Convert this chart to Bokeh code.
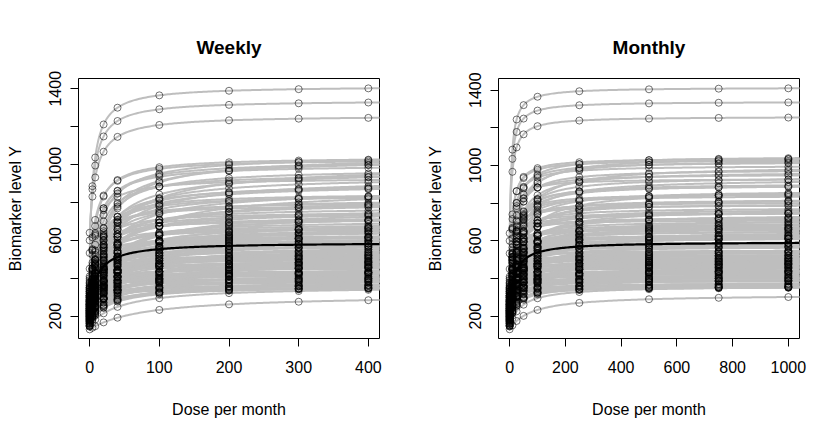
import numpy as np
from bokeh.plotting import figure
from bokeh.models import Range1d, FixedTicker, Title
from bokeh.layouts import row
from bokeh.embed import file_html
from bokeh.resources import INLINE

# ---------------- data ----------------
weekly_doses = [0, 4, 8, 20, 40, 100, 200, 300, 400]
monthly_doses = [0, 10, 25, 50, 100, 250, 500, 750, 1000]

# per-subject Emax-model parameters (baseline, maximal effect, ED50)
e0 = [130, 150, 165, 180, 145, 200, 220, 175, 240, 160, 260, 190, 210, 230, 150, 275, 185, 205, 250, 170,
      300, 225, 195, 265, 155,
      210, 280, 175, 240, 320, 190, 260, 145, 230, 300, 200, 350, 165, 270, 215, 245, 185, 330, 255, 160,
      290, 220, 205, 375, 235, 180, 265, 310, 195, 250, 225, 285, 170, 340, 210, 260, 235, 190, 305, 275,
      150, 220, 360, 245, 200, 280, 230, 325, 185, 255,
      210, 295, 170, 240, 350, 265, 195, 310, 225, 400, 180, 285, 250, 215, 330, 160, 275, 235, 370, 200,
      300, 255, 190, 320, 230, 280, 215, 345, 260, 175, 305, 240, 390, 225, 290, 200,
      270, 335, 215, 250, 310, 180, 285, 360, 230, 265, 205, 320, 245, 290, 380, 220, 275, 330, 240, 300,
      350, 260, 410, 310, 280, 340, 450,
      533, 600, 640]
emax = [185, 210, 195, 175, 215, 155, 140, 190, 120, 215, 110, 190, 175, 160, 245, 115, 215, 200, 155, 240,
        100, 190, 225, 150, 270,
        220, 150, 265, 200, 120, 255, 190, 300, 225, 160, 260, 110, 300, 200, 260, 235, 295, 150, 230, 330,
        200, 275, 290, 125, 270, 325, 245, 200, 320, 265, 300, 240, 360, 185, 330, 285, 310, 360, 245, 280,
        420, 350, 215, 340, 385, 310, 365, 270, 410, 345,
        405, 320, 455, 380, 265, 365, 430, 320, 415, 230, 470, 365, 405, 450, 335, 510, 400, 450, 300, 490,
        390, 445, 520, 385, 490, 440, 520, 380, 480, 580, 445, 530, 360, 550, 480, 590,
        530, 470, 610, 570, 520, 660, 570, 490, 640, 610, 690, 580, 660, 640, 550, 720, 680, 640, 740, 700,
        650, 770, 610, 730, 770, 710, 580,
        882, 740, 620]
ed50 = [80, 45, 30, 25, 20, 15, 35, 12, 10, 18, 22, 40, 8, 28, 16, 6, 50, 14, 20, 33,
        12, 9, 24, 38, 11,
        15, 7, 26, 19, 30, 12, 45, 21, 10, 17, 35, 8, 14, 23, 6, 40, 18, 11, 28, 9,
        16, 55, 13, 20, 24, 32, 7, 19, 15, 42, 10, 26, 21, 12, 17, 36, 8, 25, 14, 30,
        18, 11, 23, 45, 16, 9, 28, 20, 13, 38,
        15, 22, 27, 10, 8, 19, 33, 14, 24, 17, 12, 40, 21, 9, 26, 18, 13, 35, 11, 22,
        16, 29, 7, 20, 44, 12, 25, 15, 31, 17, 10, 38, 19, 14, 24, 8,
        21, 12, 28, 16, 35, 10, 19, 14, 26, 42, 13, 22, 17, 30, 9, 20, 12, 25, 15, 34,
        11, 18, 14, 8, 23, 16, 10,
        6, 7, 9]

# typical (population) curve parameters: baseline, Emax, ED50
mean_weekly = [250, 340, 12]
mean_monthly = [250, 345, 20]

x_ticks_weekly = [0, 100, 200, 300, 400]
x_ticks_monthly = [0, 200, 400, 600, 800, 1000]
y_ticks = [200, 400, 600, 800, 1000, 1200, 1400]
y_tick_labels = {200: "200", 400: "", 600: "600", 800: "", 1000: "1000", 1200: "", 1400: "1400"}

FONT = "Liberation Sans"
GRAY = "#BEBEBE"


def emax_model(d, p0, pm, pk):
    return p0 + pm * d / (pk + d)


def make_panel(title, doses, xr, yr, xticks, mean_par, border_left, border_right):
    p = figure(frame_width=301, frame_height=260,
               x_range=Range1d(*xr), y_range=Range1d(*yr),
               output_backend="svg", toolbar_location=None,
               min_border_left=border_left, min_border_right=border_right,
               min_border_top=78, min_border_bottom=90,
               background_fill_color="white", border_fill_color="white")
    p.title = Title(text=title, align="center", text_font=FONT, text_font_size="19px",
                    text_font_style="bold", text_color="black", standoff=41)
    p.xgrid.visible = False
    p.ygrid.visible = False
    p.outline_line_color = "black"
    p.outline_line_width = 1
    p.outline_line_alpha = 1

    xmax = xr[1] + 10
    grid = np.unique(np.concatenate([np.linspace(0, 0.1 * xmax, 120), np.linspace(0.1 * xmax, xmax, 160)]))
    xs, ys = [], []
    px, py = [], []
    d_arr = np.array(doses, dtype=float)
    for a, b, c in zip(e0, emax, ed50):
        xs.append(grid)
        ys.append(emax_model(grid, a, b, c))
        px.extend(d_arr.tolist())
        py.extend(emax_model(d_arr, a, b, c).tolist())
    p.multi_line(xs, ys, line_color=GRAY, line_width=2)
    p.scatter(px, py, marker="circle", size=7, fill_color=None,
              line_color="black", line_alpha=0.55, line_width=1)
    p.line(grid, emax_model(grid, *mean_par), line_color="black", line_width=2.2)

    for ax in (p.xaxis[0], p.yaxis[0]):
        ax.axis_line_color = None
        ax.major_tick_line_color = "black"
        ax.major_tick_out = 8
        ax.major_tick_in = 0
        ax.minor_tick_out = 0
        ax.minor_tick_in = 0
        ax.major_label_text_font = FONT
        ax.major_label_text_font_size = "16px"
        ax.major_label_text_color = "black"
        ax.axis_label_text_font = FONT
        ax.axis_label_text_font_size = "16px"
        ax.axis_label_text_font_style = "normal"
        ax.axis_label_text_color = "black"
    p.xaxis[0].ticker = FixedTicker(ticks=xticks)
    p.xaxis[0].axis_label = "Dose per month"
    p.xaxis[0].major_label_standoff = 14
    p.xaxis[0].axis_label_standoff = 25
    p.yaxis[0].ticker = FixedTicker(ticks=y_ticks)
    p.yaxis[0].major_label_overrides = y_tick_labels
    p.yaxis[0].major_label_orientation = "vertical"
    p.yaxis[0].axis_label = "Biomarker level Y"
    p.yaxis[0].major_label_standoff = 9
    p.yaxis[0].axis_label_standoff = 23
    return p


p1 = make_panel("Weekly", weekly_doses, (-16, 416), (82, 1454), x_ticks_weekly, mean_weekly, 78, 41)
p2 = make_panel("Monthly", monthly_doses, (-40, 1040), (81, 1462), x_ticks_monthly, mean_monthly, 78, 20)

layout = row(p1, p2)
open("out.html", "w").write(file_html(layout, INLINE))
